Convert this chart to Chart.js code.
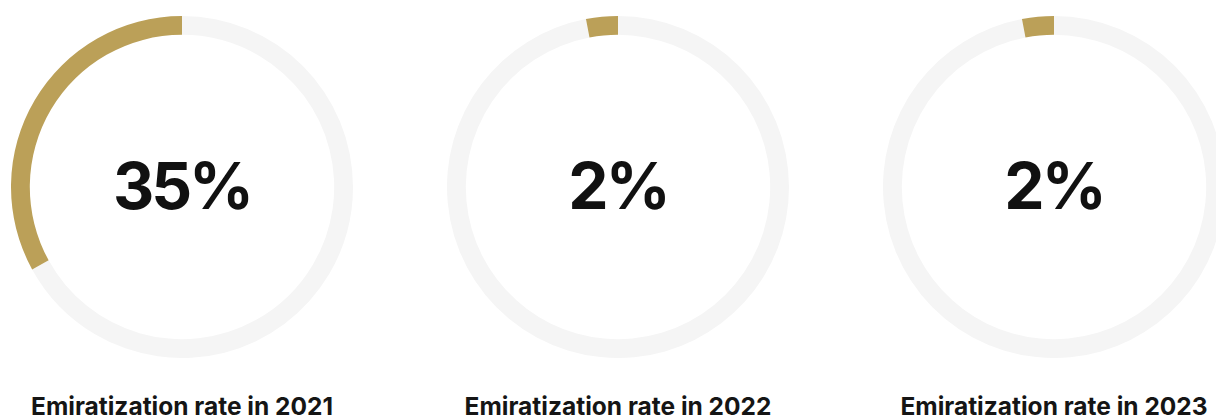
<!DOCTYPE html>
<html>
<head>
<meta charset="utf-8">
<script src="https://cdn.jsdelivr.net/npm/chart.js@4/dist/chart.umd.min.js"></script>
<style>
  html, body { margin: 0; padding: 0; background: #fff; overflow: hidden; }
  body { width: 1216px; height: 419px; position: relative; font-family: Inter, "Noto Sans", sans-serif; }
  .col { position: absolute; top: 16px; width: 342px; }
  .col canvas { display: block; }
  .title { position: absolute; top: 392px; width: 342px; text-align: center; font-weight: 700; font-size: 24.5px; line-height: 1.21; color: #151515; white-space: nowrap; }
</style>
</head>
<body>
<div class="col" style="left:11px"><canvas id="ring0" width="342" height="342"></canvas></div>
<div class="col" style="left:447px"><canvas id="ring1" width="342" height="342"></canvas></div>
<div class="col" style="left:883px"><canvas id="ring2" width="342" height="342"></canvas></div>
<div class="title" id="title0" style="left:11px"></div>
<div class="title" id="title1" style="left:447px"></div>
<div class="title" id="title2" style="left:883px"></div>
<script>
let years = ["2021", "2022", "2023"];
let rateLabels = ["35%", "2%", "2%"];
// arc size as it is drawn in the picture (percent of the ring)
let rateArcs = [33, 3, 3];

let goldColor = '#bba058';
let trackColor = '#f5f5f5';

// draws the big percentage in the middle of the ring
let centerText = {
  id: 'centerText',
  afterDraw(chart, args, opts) {
    let ctx = chart.ctx;
    let meta = chart.getDatasetMeta(0).data[0];
    ctx.save();
    ctx.font = '700 64px Inter, "Noto Sans", sans-serif';
    ctx.letterSpacing = '-3px';
    ctx.fillStyle = '#111111';
    ctx.textAlign = 'center';
    ctx.textBaseline = 'alphabetic';
    ctx.fillText(opts.text, meta.x, meta.y + 22);
    ctx.restore();
  }
};

for (let i = 0; i < years.length; i++) {

  document.getElementById('title' + i).innerText = 'Emiratization rate in ' + years[i];

  const ctx = document.getElementById('ring' + i).getContext('2d');

  new Chart(ctx, {
    type: 'doughnut',
    data: {
      labels: ['rest', 'rate'],
      datasets: [{
        // rest first so the gold part runs counter-clockwise from the top
        data: [100 - rateArcs[i], rateArcs[i]],
        backgroundColor: [trackColor, goldColor],
        borderWidth: 0
      }]
    },
    options: {
      responsive: false,
      animation: false,
      cutout: '89%',
      plugins: {
        legend: { display: false },
        tooltip: { enabled: false },
        centerText: { text: rateLabels[i] }
      }
    },
    plugins: [centerText]
  });
}
</script>
</body>
</html>
